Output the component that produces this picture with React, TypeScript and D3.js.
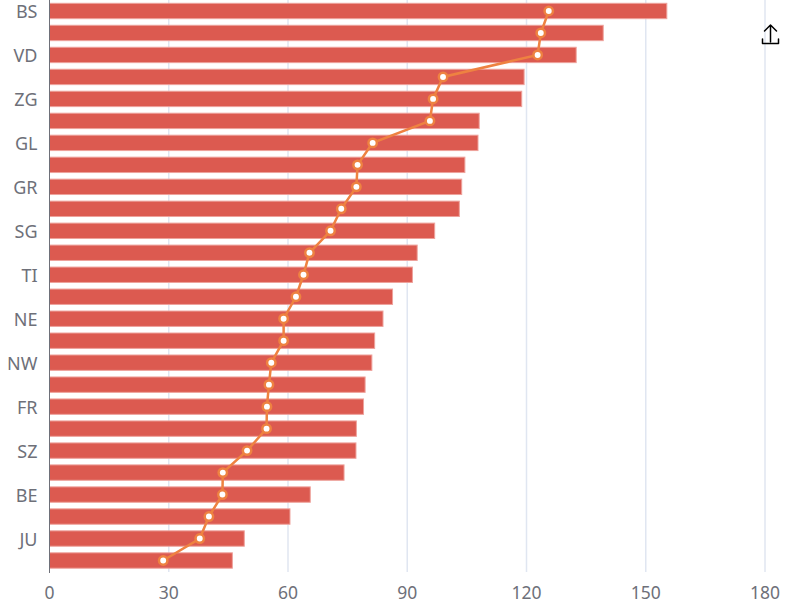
import React from 'react';
import * as d3 from 'd3';

// cantons, top to bottom (only every other one is labelled in the chart)
const cantons = ['BS', 'GE', 'VD', 'ZH', 'ZG', 'BL', 'GL', 'AR', 'GR', 'SH', 'SG', 'AI', 'TI',
  'LU', 'NE', 'TG', 'NW', 'SO', 'FR', 'AG', 'SZ', 'OW', 'BE', 'VS', 'JU', 'UR'];
const barValues = [155.3, 139.3, 132.5, 119.4, 118.8, 108.1, 107.8, 104.5, 103.7, 103.1, 96.9, 92.5, 91.3,
  86.3, 83.9, 81.8, 81.1, 79.4, 79.0, 77.2, 77.1, 74.1, 65.6, 60.5, 49.0, 46.0];
const lineValues = [125.6, 123.6, 122.8, 99.0, 96.5, 95.7, 81.3, 77.5, 77.2, 73.4, 70.7, 65.4, 63.9,
  62.0, 58.9, 58.9, 55.8, 55.2, 54.7, 54.6, 49.7, 43.6, 43.5, 40.1, 37.8, 28.6];
const xTicks = [0, 30, 60, 90, 120, 150, 180];

const WIDTH = 804;
const HEIGHT = 603;
const margin = { top: 0, right: 39, bottom: 31, left: 49.5 };

const App: React.FC = () => {
  const x = d3.scaleLinear()
    .domain([0, 180])
    .range([margin.left, WIDTH - margin.right]);

  const y = d3.scaleBand()
    .domain(cantons)
    .range([margin.top, HEIGHT - margin.bottom - 0.5])
    .padding(0);

  const bw = y.bandwidth();
  const barH = bw * 0.7;
  const cy = (c: string) => (y(c) || 0) + bw / 2;

  const line = d3.line<number>()
    .x(d => x(d))
    .y((_, i) => cy(cantons[i]));

  const font = '"Noto Sans", "DejaVu Sans", sans-serif';
  const bottom = HEIGHT - margin.bottom;

  return (
    <svg width={WIDTH} height={HEIGHT}
      style={{ position: 'absolute', left: 0, top: 0, background: '#fff' }}>
      {/* grid */}
      {xTicks.slice(1).map(t => (
        <line key={t} x1={x(t)} x2={x(t)} y1={margin.top} y2={bottom}
          stroke="#e0e6f1" strokeWidth={1.5} />
      ))}

      {/* bars */}
      {cantons.map((c, i) => (
        <rect key={c} x={x(0)} y={cy(c) - barH / 2}
          width={x(barValues[i]) - x(0)} height={barH}
          fill="#dc5a50" stroke="#eea29c" strokeWidth={1} />
      ))}

      {/* y axis */}
      <line x1={x(0)} x2={x(0)} y1={margin.top} y2={bottom + 1}
        stroke="#6e7079" strokeWidth={1} />
      {cantons.map((c, i) => i % 2 === 0 ? (
        <text key={c} x={x(0) - 12} y={cy(c)} textAnchor="end" dominantBaseline="central"
          fontSize={18} fontFamily={font} fill="#6e7079">{c}</text>
      ) : null)}

      {/* x labels */}
      {xTicks.map(t => (
        <text key={t} x={x(t)} y={599} textAnchor="middle"
          fontSize={17.5} fontFamily={font} fill="#6e7079">{t}</text>
      ))}

      {/* line series */}
      <path d={line(lineValues) || ''} fill="none" stroke="#ee8241" strokeWidth={2.5} />
      {lineValues.map((v, i) => (
        <circle key={i} cx={x(v)} cy={cy(cantons[i])} r={4.2}
          fill="#fff" stroke="#ee8241" strokeWidth={2.5} />
      ))}

      {/* export icon */}
      <g fill="none" stroke="#000" strokeWidth={1.5} strokeLinecap="round" strokeLinejoin="round">
        <path d="M770.5,42 V25 M764.5,31 L770.5,25 L776.5,31" />
        <path d="M762.5,39 V43.5 H778.5 V39" />
      </g>
    </svg>
  );
};

export default App;
